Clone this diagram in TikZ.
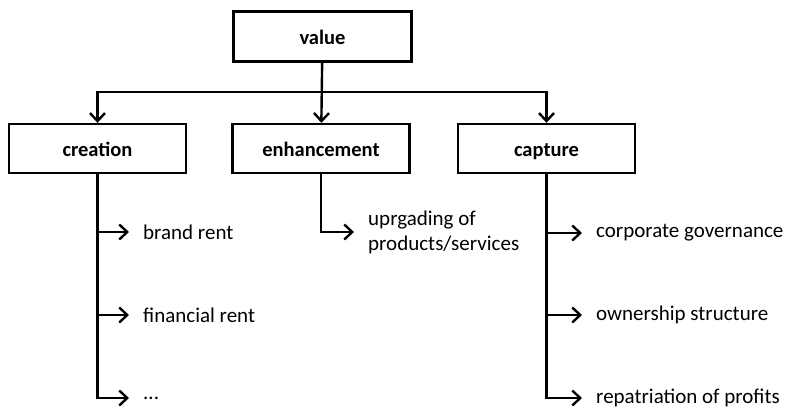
\documentclass[tikz,border=0pt]{standalone}
\usepackage{fontspec}
\setmainfont{Carlito}
\usetikzlibrary{arrows.meta}

\tikzset{
	box/.style={draw, line width=2.4pt, minimum width=177pt, minimum height=49pt, text height=17pt, text depth=2pt, font=\fontsize{20.5}{24}\selectfont\bfseries},
	leaf/.style={anchor=west, inner sep=0pt, align=left, font=\fontsize{21}{25}\selectfont},
	arr/.style={line width=2.4pt, -{Straight Barb[length=8pt,width=15pt,line width=2.4pt]}},
}

\begin{document}
\begin{tikzpicture}[x=1pt, y=-1pt]
		\useasboundingbox (0,0) rectangle (785,410);
		
		\node[box, line width=3.4pt, minimum width=178pt, minimum height=50pt] (value) at (322.5,36.5) {value};
		\node[box] (creation) 	 at (97.5,148.5) {creation};
		\node[box] (enhancement) at (321,148.5) {enhancement};
		\node[box] (capture) 	 at (546.5,148.5) {capture};
		
		\coordinate (hub) at (321,92);
		\draw[arr] (value) -- (enhancement);
		\draw[arr] (hub) -| (creation);
		\draw[arr] (hub) -| (capture);
		
		% creation
		\node[leaf] (brand) 	at (143,232) {brand rent};
		\node[leaf] (financial) at (143,315) {financial rent};
		\node[leaf] (more) 		at (143,398) {...};
		\foreach \n in {brand, financial, more}
			\draw[arr, shorten >=14pt] (creation) |- (\n);
		
		% enhancement
		\node[leaf] (upgrading) at (368,232) {uprgading of\\products/services};
		\draw[arr, shorten >=14pt] (enhancement) |- (upgrading);
		
		% capture
		\node[leaf] (governance) at (596,233) {corporate governance};
		\node[leaf] (ownership)  at (596,315) {ownership structure};
		\node[leaf] (profits) 	 at (596,398) {repatriation of profits};
		\foreach \n in {governance, ownership, profits}
			\draw[arr, shorten >=14pt] (capture) |- (\n);
	\end{tikzpicture}
\end{document}
